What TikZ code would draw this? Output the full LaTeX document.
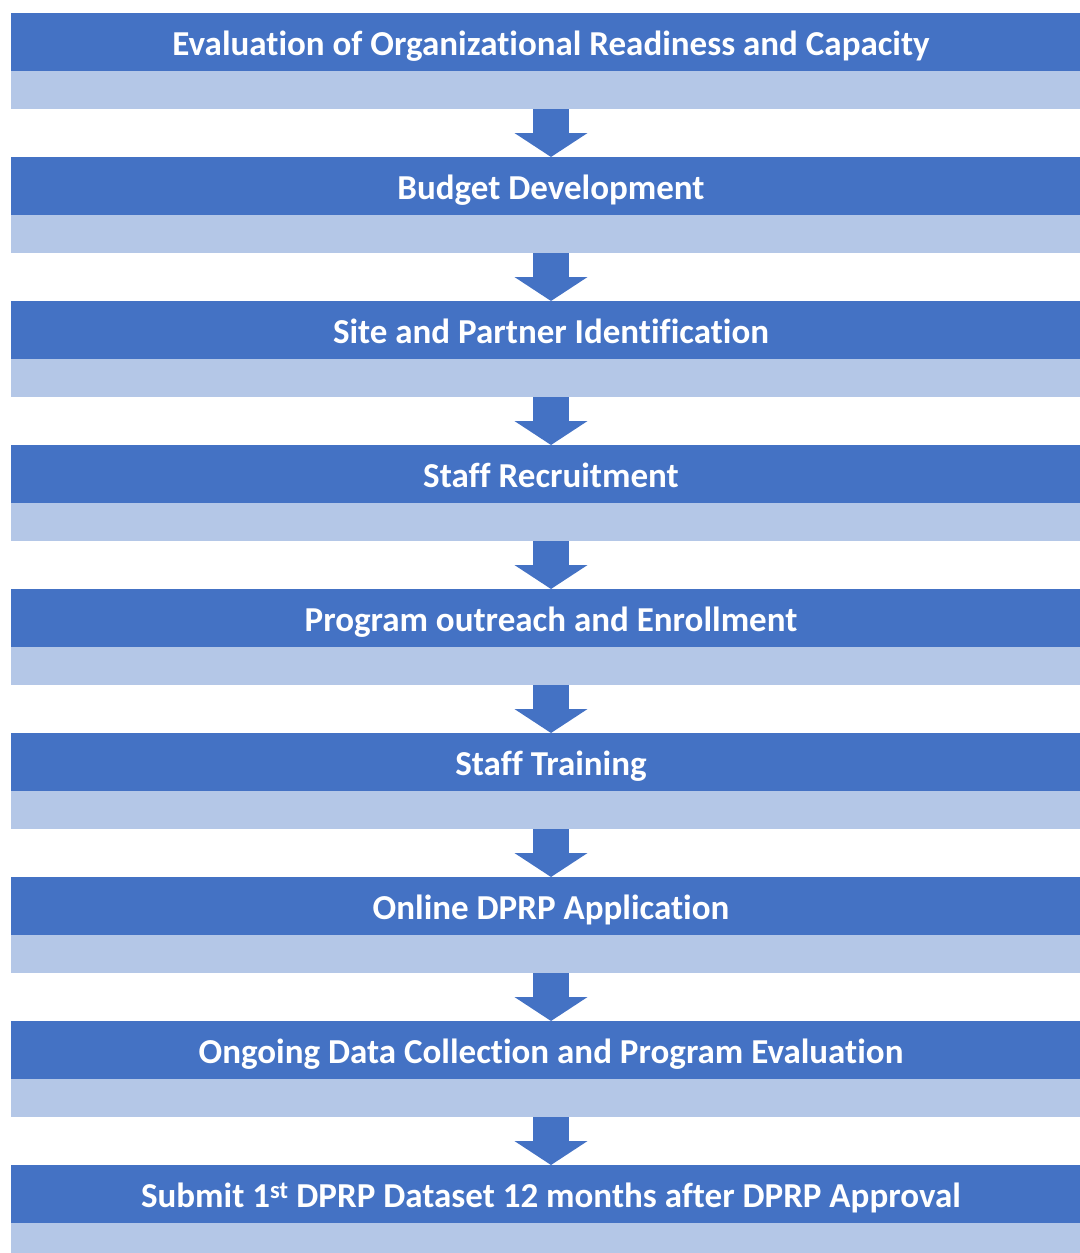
\documentclass[tikz,border=0pt]{standalone}
\usepackage{fontspec}
\setmainfont{Carlito}[Ligatures={NoCommon}]
\usetikzlibrary{arrows.meta,positioning}

\definecolor{stepblue}{HTML}{4472C4}
\definecolor{bandblue}{HTML}{B4C7E7}

\tikzset{
	stepbox/.style={fill=stepblue,text=white,font=\fontsize{35}{40}\selectfont\bfseries,
		text height=27.5pt,text depth=0pt,
		minimum width=1080pt,minimum height=58pt,inner sep=0pt,outer sep=0pt},
	bandbox/.style={fill=bandblue,minimum width=1080pt,minimum height=38pt,inner sep=0pt,outer sep=0pt},
	flow/.style={draw=stepblue,line width=36pt,-{Triangle[width=72pt,length=24pt]}}
}

\begin{document}
\begin{tikzpicture}[x=1pt,y=1pt]
	\useasboundingbox (0,0) rectangle (1079,-1253);
	
	\node[stepbox] (s1) at (551,-42) {Evaluation of Organizational Readiness and Capacity};
	\node[bandbox,below=0pt of s1] (b1) {};
	
	\node[stepbox,below=48pt of b1] (s2) {Budget Development};
	\node[bandbox,below=0pt of s2] (b2) {};
	
	\node[stepbox,below=48pt of b2] (s3) {Site and Partner Identification};
	\node[bandbox,below=0pt of s3] (b3) {};
	
	\node[stepbox,below=48pt of b3] (s4) {Staff Recruitment};
	\node[bandbox,below=0pt of s4] (b4) {};
	
	\node[stepbox,below=48pt of b4] (s5) {Program outreach and Enrollment};
	\node[bandbox,below=0pt of s5] (b5) {};
	
	\node[stepbox,below=48pt of b5] (s6) {Staff Training};
	\node[bandbox,below=0pt of s6] (b6) {};
	
	\node[stepbox,below=48pt of b6] (s7) {Online DPRP Application};
	\node[bandbox,below=0pt of s7] (b7) {};
	
	\node[stepbox,below=48pt of b7] (s8) {Ongoing Data Collection and Program Evaluation};
	\node[bandbox,below=0pt of s8] (b8) {};
	
	\node[stepbox,below=48pt of b8] (s9) {Submit 1\textsuperscript{st} DPRP Dataset 12 months after DPRP Approval};
	\node[bandbox,below=0pt of s9] (b9) {};
	
	% arrows between the steps
	\draw[flow] (b1.south) -- (s2.north);
	\draw[flow] (b2.south) -- (s3.north);
	\draw[flow] (b3.south) -- (s4.north);
	\draw[flow] (b4.south) -- (s5.north);
	\draw[flow] (b5.south) -- (s6.north);
	\draw[flow] (b6.south) -- (s7.north);
	\draw[flow] (b7.south) -- (s8.north);
	\draw[flow] (b8.south) -- (s9.north);
	
\end{tikzpicture}
\end{document}
